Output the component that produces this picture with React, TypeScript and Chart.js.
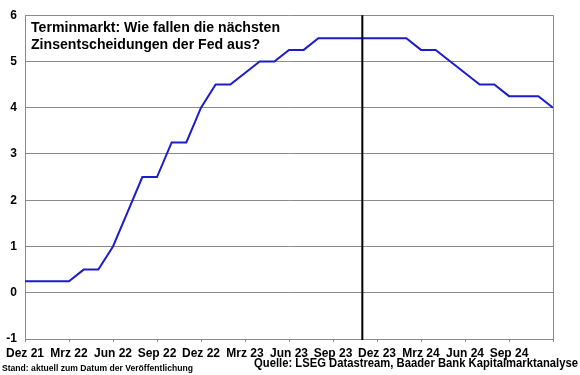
import React, { useEffect, useRef } from 'react';
import { Chart, registerables } from 'chart.js';

Chart.register(...registerables);

const months: string[] = [
  'Dez 21',
  'Jan 22', 'Feb 22', 'Mrz 22', 'Apr 22', 'Mai 22', 'Jun 22', 'Jul 22', 'Aug 22', 'Sep 22', 'Okt 22', 'Nov 22', 'Dez 22',
  'Jan 23', 'Feb 23', 'Mrz 23', 'Apr 23', 'Mai 23', 'Jun 23', 'Jul 23', 'Aug 23', 'Sep 23', 'Okt 23', 'Nov 23', 'Dez 23',
  'Jan 24', 'Feb 24', 'Mrz 24', 'Apr 24', 'Mai 24', 'Jun 24', 'Jul 24', 'Aug 24', 'Sep 24', 'Okt 24', 'Nov 24', 'Dez 24',
];

const fedRate: number[] = [
  0.25,
  0.25, 0.25, 0.25, 0.5, 0.5, 1.0, 1.75, 2.5, 2.5, 3.25, 3.25, 4.0,
  4.5, 4.5, 4.75, 5.0, 5.0, 5.25, 5.25, 5.5, 5.5, 5.5, 5.5, 5.5,
  5.5, 5.5, 5.25, 5.25, 5.0, 4.75, 4.5, 4.5, 4.25, 4.25, 4.25, 4.0,
];

const markerMonth = 'Nov 23';
const tickLabelsHidden: string[] = ['Dez 24'];

const titleLines: string[] = ['Terminmarkt: Wie fallen die nächsten', 'Zinsentscheidungen der Fed aus?'];
const footLeft = 'Stand: aktuell zum Datum der Veröffentlichung';
const footRight = 'Quelle: LSEG Datastream, Baader Bank Kapitalmarktanalyse';

const FONT = '"Liberation Sans", Arial, sans-serif';
const GRID = '#8a8a8a';
const BLUE = '#1c1cc8';

const overlay = {
  id: 'overlay',
  afterDatasetsDraw(chart: any) {
    const { ctx, chartArea } = chart;
    const { top, bottom, right } = chartArea;
    const xs = chart.scales.x;
    ctx.save();
    ctx.strokeStyle = GRID;
    ctx.lineWidth = 1;
    ctx.beginPath();
    ctx.moveTo(Math.round(right) + 0.5, top);
    ctx.lineTo(Math.round(right) + 0.5, bottom + 3);
    ctx.stroke();

    const px = xs.getPixelForValue(months.indexOf(markerMonth));
    ctx.strokeStyle = '#000';
    ctx.lineWidth = 2;
    ctx.beginPath();
    ctx.moveTo(px, top);
    ctx.lineTo(px, bottom + 1);
    ctx.stroke();

    ctx.fillStyle = '#000';
    ctx.textAlign = 'left';
    ctx.textBaseline = 'alphabetic';
    ctx.font = `bold 15.5px ${FONT}`;
    ctx.fillText(titleLines[0], 31, 32, 249);
    ctx.fillText(titleLines[1], 31, 49, 229);
    ctx.restore();
  },
  afterDraw(chart: any) {
    const { ctx } = chart;
    ctx.save();
    ctx.fillStyle = '#000';
    ctx.textBaseline = 'alphabetic';
    ctx.textAlign = 'left';
    ctx.font = `bold 9px ${FONT}`;
    ctx.fillText(footLeft, 2, 371, 191);
    ctx.font = `bold 12px ${FONT}`;
    ctx.textAlign = 'right';
    ctx.fillText(footRight, 578, 367, 324);
    ctx.restore();
  },
};

export default function App() {
  const ref = useRef<HTMLCanvasElement | null>(null);
  useEffect(() => {
    if (!ref.current) return;
    const chart = new Chart(ref.current, {
      type: 'line',
      data: {
        datasets: [
          {
            label: 'Fed Funds',
            data: fedRate.map((v, i) => ({ x: i, y: v })),
            borderColor: BLUE,
            borderWidth: 2,
            pointRadius: 0,
            tension: 0,
            fill: false,
          },
        ],
      },
      options: {
        responsive: false,
        animation: false,
        layout: { padding: { top: 10, right: 27, left: 0, bottom: 0 } },
        plugins: { legend: { display: false }, tooltip: { enabled: false }, title: { display: false } },
        scales: {
          x: {
            type: 'linear',
            min: 0,
            max: months.length - 1,
            afterFit: (s: any) => { s.height = 36; },
            ticks: {
              stepSize: 3,
              autoSkip: false,
              maxRotation: 0,
              padding: 4,
              color: '#000',
              font: { family: FONT, size: 12, weight: 'bold' },
              callback: (v: any) => {
                const l = months[Math.round(Number(v))];
                return tickLabelsHidden.includes(l) ? '' : l;
              },
            },
            grid: { drawOnChartArea: false, drawTicks: true, tickLength: 3, color: GRID },
            border: { display: true, color: GRID },
          },
          y: {
            min: -1,
            max: 6,
            afterFit: (s: any) => { s.width = 25; },
            ticks: {
              stepSize: 1,
              padding: 8,
              color: '#000',
              font: { family: FONT, size: 12, weight: 'bold' },
            },
            grid: { color: GRID, drawTicks: false },
            border: { display: true, color: GRID },
          },
        },
      },
      plugins: [overlay],
    });
    return () => chart.destroy();
  }, []);
  return (
    <div style={{ position: 'fixed', left: 0, top: 0, width: 580, height: 375, background: '#fff' }}>
      <canvas ref={ref} width={580} height={375} />
    </div>
  );
}
